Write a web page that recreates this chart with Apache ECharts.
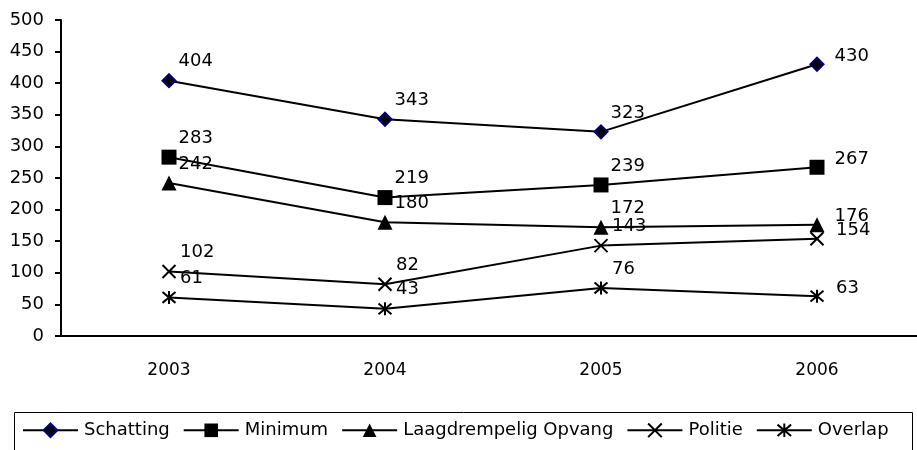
<!DOCTYPE html>
<html>
<head>
<meta charset="utf-8">
<script src="https://cdn.jsdelivr.net/npm/echarts@6/dist/echarts.min.js"></script>
<style>html,body{margin:0;padding:0;background:#fff;overflow:hidden}#c{width:925px;height:450px}</style>
</head>
<body>
<div id="c"></div>
<script>
const categories = ['2003', '2004', '2005', '2006'];
const schatting = [404, 343, 323, 430];
const minimum = [283, 219, 239, 267];
const laagdrempelig = [242, 180, 172, 176];
const politie = [102, 82, 143, 154];
const overlap = [61, 43, 76, 63];
const seriesNames = ['Schatting', 'Minimum', 'Laagdrempelig Opvang', 'Politie', 'Overlap'];

const FONT = 'DejaVu Sans';
const X_PATH = 'path://M0,0L10,10M10,0L0,10';
const STAR_PATH = 'path://M0,0L10,10M10,0L0,10M5,-1L5,11';

function mkData(arr) {
  return arr.map((v, i) => i === arr.length - 1
    ? { value: v, label: { offset: [8, -8] } }
    : { value: v });
}

function mkSeries(name, arr, symbol, size, itemStyle) {
  return {
    name: name,
    type: 'line',
    data: mkData(arr),
    symbol: symbol,
    symbolSize: size,
    lineStyle: { color: '#000', width: 2 },
    itemStyle: itemStyle,
    label: {
      show: true, position: 'right', distance: 2, offset: [0, -19],
      color: '#000', fontFamily: FONT, fontSize: 18
    },
    emphasis: { disabled: true },
    animation: false
  };
}

const chart = echarts.init(document.getElementById('c'), null, { renderer: 'canvas' });
chart.setOption({
  backgroundColor: '#fff',
  animation: false,
  grid: { left: 61, top: 20, right: 0, bottom: 114, containLabel: false },
  xAxis: {
    type: 'category',
    data: categories,
    boundaryGap: true,
    axisLine: { lineStyle: { color: '#000', width: 2 } },
    axisTick: { show: false },
    axisLabel: { color: '#000', fontFamily: FONT, fontSize: 17, margin: 26 },
    splitLine: { show: false }
  },
  yAxis: {
    type: 'value',
    min: 0, max: 500, interval: 50,
    axisLine: { show: true, lineStyle: { color: '#000', width: 2 } },
    axisTick: { show: true, inside: false, length: 6, lineStyle: { color: '#000', width: 2 } },
    axisLabel: { color: '#000', fontFamily: FONT, fontSize: 18, margin: 17 },
    splitLine: { show: false }
  },
  legend: {
    data: seriesNames,
    left: 22, top: 421,
    itemWidth: 55, itemHeight: 17, itemGap: 13,
    textStyle: { color: '#000', fontFamily: FONT, fontSize: 18, padding: [0, 0, 0, 1] },
    padding: 0
  },
  graphic: [{
    type: 'rect',
    shape: { x: 14.5, y: 412.5, width: 898, height: 50 },
    style: { fill: 'none', stroke: '#000', lineWidth: 1 },
    silent: true, z: -1
  }],
  series: [
    mkSeries(seriesNames[0], schatting, 'diamond', 13, { color: '#000', borderColor: '#000080', borderWidth: 2 }),
    mkSeries(seriesNames[1], minimum, 'rect', 15, { color: '#000' }),
    mkSeries(seriesNames[2], laagdrempelig, 'triangle', 15, { color: '#000' }),
    mkSeries(seriesNames[3], politie, X_PATH, 13, { color: 'none', borderColor: '#000', borderWidth: 2 }),
    mkSeries(seriesNames[4], overlap, STAR_PATH, 13, { color: 'none', borderColor: '#000', borderWidth: 2 })
  ]
});
</script>
</body>
</html>
